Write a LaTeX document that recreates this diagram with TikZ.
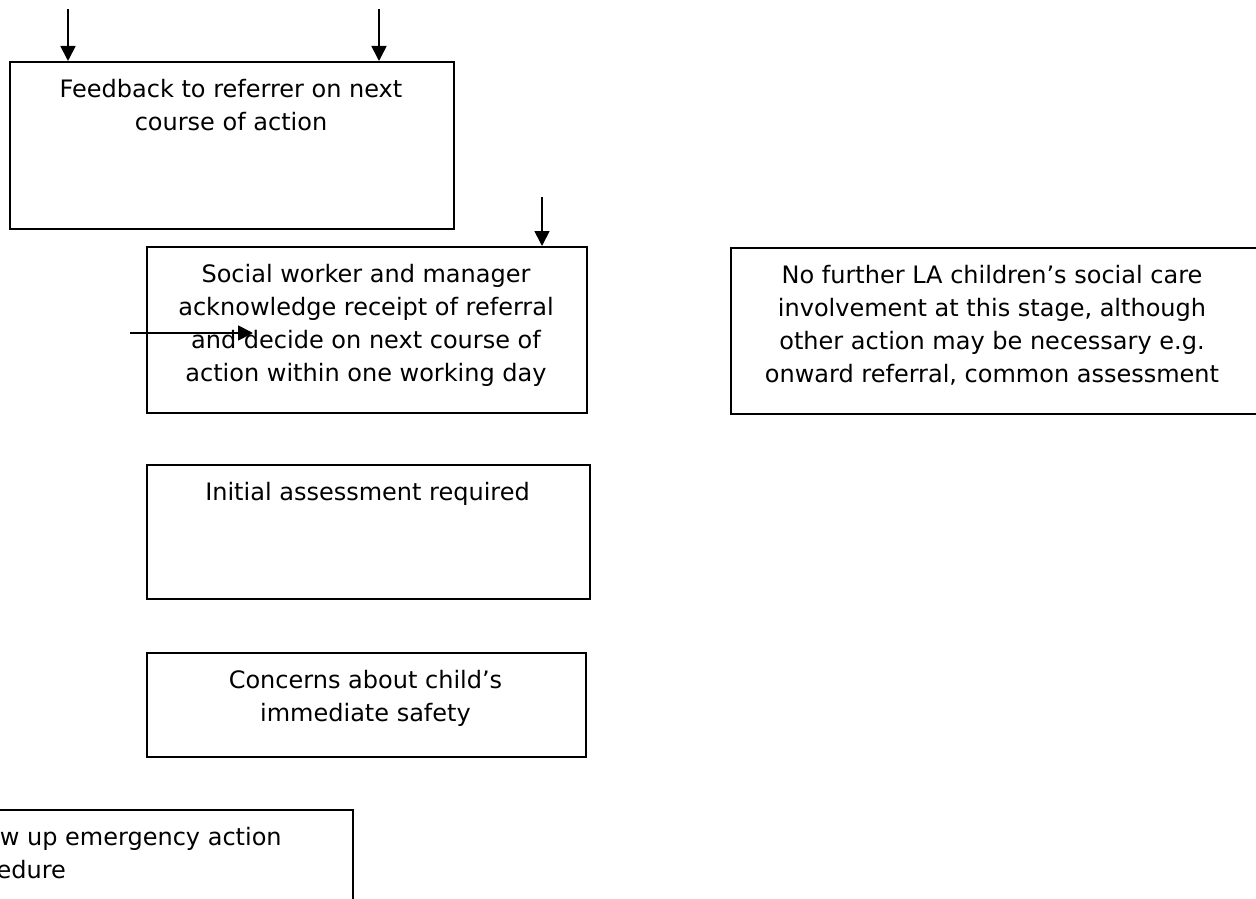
\documentclass[tikz,border=0pt]{standalone}
\usepackage{fontspec}
\setmainfont{DejaVu Sans}
\usetikzlibrary{arrows.meta}
\newcommand{\ctext}[1]{\parbox[t]{560pt}{\parindent=0pt\centering\fontsize{24}{33}\selectfont #1}}
\newcommand{\ltext}[1]{\parbox[t]{420pt}{\parindent=0pt\raggedright\fontsize{24}{33}\selectfont #1}}
\begin{document}
\begin{tikzpicture}[x=1pt,y=-1pt,
  box/.style={draw=black, line width=2pt, rectangle, inner sep=0pt, anchor=north west},
  txt/.style={inner sep=0pt, anchor=base},
  arr/.style={line width=1.8pt, -{Triangle[length=15pt,width=15pt]}}]
\useasboundingbox (0,0) rectangle (1256,899);
\fill[white] (0,0) rectangle (1256,899);

% boxes
\node[box, minimum width=444pt, minimum height=167pt] (fb) at (9,61) {};
\node[box, minimum width=440pt, minimum height=166pt] (sw) at (146,246) {};
\node[box, minimum width=532pt, minimum height=166pt] (nf) at (730,247) {};
\node[box, minimum width=443pt, minimum height=134pt] (ia) at (146,464) {};
\node[box, minimum width=439pt, minimum height=104pt] (cc) at (146,652) {};
\node[box, minimum width=420pt, minimum height=150pt] (em) at (-68,809) {};

% texts
\node[txt] (fbt) at (231,97) {\ctext{Feedback to referrer on next\\course of action}};
\node[txt] (swt) at (366,282) {\ctext{Social worker and manager\\acknowledge receipt of referral\\and decide on next course of\\action within one working day}};
\node[txt] (nft) at (992,283) {\ctext{No further LA children’s social care\\involvement at this stage, although\\other action may be necessary e.g.\\onward referral, common assessment}};
\node[txt] (iat) at (367.5,500) {\ctext{Initial assessment required}};
\node[txt] (cct) at (365.5,688) {\ctext{Concerns about child’s\\immediate safety}};
\node[txt, anchor=base west] (emt) at (-56,845) {\ltext{Follow up emergency action\\procedure}};

% arrows
\coordinate (s1) at (68,9);
\coordinate (s2) at (379,9);
\coordinate (s3) at (542,197);
\coordinate (s4) at (130,333);
\coordinate (e4) at (253,333);
\draw[arr] (s1) -- (s1 |- fb.north);
\draw[arr] (s2) -- (s2 |- fb.north);
\draw[arr] (s3) -- (s3 |- sw.north);
\draw[arr] (s4) -- (e4);
\end{tikzpicture}
\end{document}
